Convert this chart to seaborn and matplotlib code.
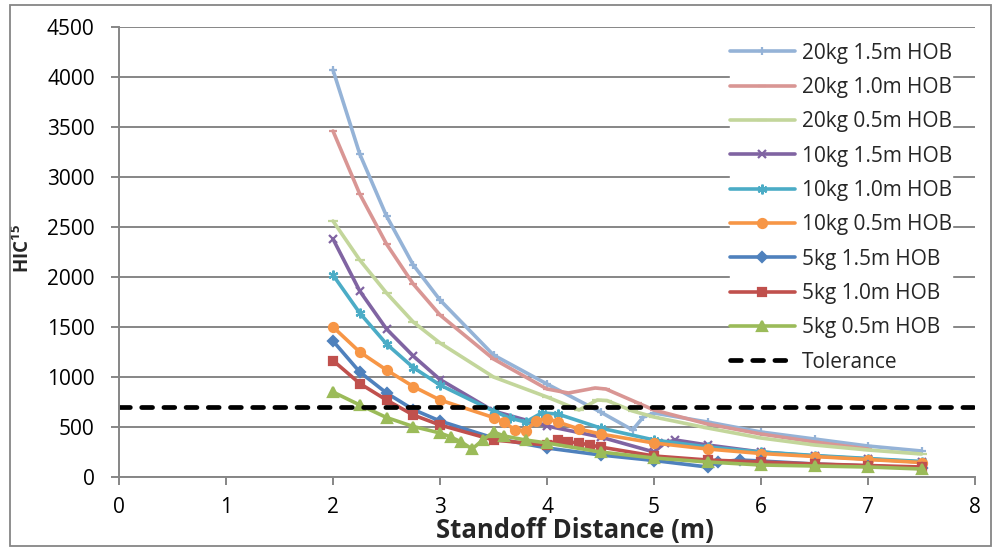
import numpy as np
import pandas as pd
import seaborn as sns
import matplotlib.pyplot as plt
from matplotlib.patches import Rectangle

# series data (standoff distance in m, HIC15)
x_20_15 = [2, 2.25, 2.5, 2.75, 3, 3.5, 4, 4.5, 4.8, 4.9, 5, 5.5, 6, 6.5, 7, 7.5]
y_20_15 = [4070, 3230, 2610, 2120, 1770, 1220, 930, 650, 470, 600, 640, 550, 450, 380, 310, 260]

x_20_10 = [2, 2.25, 2.5, 2.75, 3, 3.5, 4, 4.2, 4.45, 4.55, 4.85, 5, 5.5, 6, 6.5, 7]
y_20_10 = [3460, 2830, 2330, 1930, 1620, 1180, 880, 840, 890, 880, 740, 670, 530, 430, 350, 280]

x_20_05 = [2, 2.25, 2.5, 2.75, 3, 3.5, 4, 4.3, 4.47, 4.56, 4.8, 5, 5.5, 6, 6.5, 7, 7.5]
y_20_05 = [2560, 2170, 1840, 1550, 1340, 1000, 800, 670, 770, 765, 660, 600, 490, 390, 320, 270, 230]

x_10_15 = [2, 2.25, 2.5, 2.75, 3, 3.5, 4, 4.5, 5, 5.1, 5.2, 5.5, 6, 6.5, 7, 7.5]
y_10_15 = [2380, 1860, 1480, 1210, 975, 660, 510, 400, 250, 340, 370, 320, 250, 210, 180, 150]

x_10_10 = [2, 2.25, 2.5, 2.75, 3, 3.5, 3.65, 3.8, 3.95, 4.1, 4.5, 5, 5.5, 6, 6.5, 7, 7.5]
y_10_10 = [2020, 1640, 1330, 1095, 920, 660, 590, 550, 640, 630, 490, 370, 300, 250, 215, 185, 155]

x_10_05 = [2, 2.25, 2.5, 2.75, 3, 3.5, 3.6, 3.7, 3.8, 3.9, 4, 4.1, 4.3, 4.5, 5, 5.5, 6, 6.5, 7, 7.5]
y_10_05 = [1500, 1250, 1070, 905, 770, 595, 550, 470, 465, 560, 585, 550, 480, 430, 340, 280, 235, 205, 175, 145]

x_5_15 = [2, 2.25, 2.5, 2.75, 3, 3.5, 4, 4.5, 5, 5.5, 5.6, 5.8, 6, 6.5, 7, 7.5]
y_5_15 = [1360, 1050, 840, 675, 560, 390, 290, 220, 165, 100, 150, 170, 160, 130, 110, 90]

x_5_10 = [2, 2.25, 2.5, 2.75, 3, 3.5, 4, 4.1, 4.2, 4.3, 4.4, 4.5, 5, 5.5, 6, 6.5, 7, 7.5]
y_5_10 = [1165, 935, 770, 620, 520, 370, 320, 370, 350, 340, 320, 300, 210, 170, 150, 130, 115, 100]

x_5_05 = [2, 2.25, 2.5, 2.75, 3, 3.1, 3.2, 3.3, 3.4, 3.5, 3.6, 3.8, 4, 4.5, 5, 5.5, 6, 6.5, 7, 7.5]
y_5_05 = [850, 720, 595, 505, 440, 400, 350, 280, 370, 450, 410, 370, 340, 250, 190, 150, 120, 110, 100, 80]

tol_x = [0, 8]
tol_y = [700, 700]

labels = ["20kg 1.5m HOB", "20kg 1.0m HOB", "20kg 0.5m HOB",
          "10kg 1.5m HOB", "10kg 1.0m HOB", "10kg 0.5m HOB",
          "5kg 1.5m HOB", "5kg 1.0m HOB", "5kg 0.5m HOB"]
colors = ["#95B3D7", "#D99694", "#C3D69B",
          "#8064A2", "#4BACC6", "#F79646",
          "#4F81BD", "#C0504D", "#9BBB59"]
markers = ["+", "_", "_", "x", (6, 2, 0), "o", "D", "s", "^"]
msizes = [6, 6, 7, 6, 7, 6.5, 5.5, 6, 6.5]
xs = [x_20_15, x_20_10, x_20_05, x_10_15, x_10_10, x_10_05, x_5_15, x_5_10, x_5_05]
ys = [y_20_15, y_20_10, y_20_05, y_10_15, y_10_10, y_10_05, y_5_15, y_5_10, y_5_05]

sns.set_style("white")
plt.rcParams['font.family'] = ['Open Sans', 'DejaVu Sans']
plt.rcParams['mathtext.fontset'] = 'custom'
plt.rcParams['mathtext.rm'] = 'Open Sans'
plt.rcParams['mathtext.bf'] = 'Open Sans:bold'

fig = plt.figure(figsize=(9.97, 5.48), dpi=100)
ax = fig.add_axes([119/997, 1 - 477/548, 856/997, 450/548])

gray = "#868686"
for xv, yv, lab, col, mk, ms in zip(xs, ys, labels, colors, markers, msizes):
    df = pd.DataFrame({"x": xv, "y": yv})
    sns.lineplot(data=df, x="x", y="y", ax=ax, color=col, lw=2.6, marker=mk,
                 markersize=ms, markeredgecolor=col, markerfacecolor=col,
                 markeredgewidth=1.6, estimator=None, sort=False, label=lab)

sns.lineplot(x=tol_x, y=tol_y, ax=ax, color="black", lw=3.4,
             linestyle=(0, (2.3, 2.4)), dash_capstyle="round",
             estimator=None, sort=False, label="Tolerance")

ax.set_xlim(0, 8)
ax.set_ylim(0, 4500)
ax.set_xticks(range(0, 9))
ax.set_yticks(range(0, 4501, 500))
ax.yaxis.grid(True, color=gray, lw=1.4)
ax.set_axisbelow(True)
for s in ["top", "right"]:
    ax.spines[s].set_visible(False)
for s in ["left", "bottom"]:
    ax.spines[s].set_color(gray)
    ax.spines[s].set_linewidth(1.4)
ax.tick_params(axis="both", direction="out", length=5.5, width=1.4, color=gray,
               labelsize=15, labelcolor="black")
ax.tick_params(axis="y", pad=12, left=True)
ax.tick_params(axis="x", pad=9, bottom=True)

ax.set_xlabel("Standoff Distance (m)", fontsize=18.5, fontweight="bold")
ax.set_ylabel(r"HIC$^{\mathbf{15}}$", fontsize=13.5, fontweight="bold")
ax.xaxis.set_label_coords(0.533, -0.088)
ax.yaxis.set_label_coords(-0.099, 0.507)

leg = ax.legend(loc="upper left", bbox_to_anchor=(0.714, 0.965), frameon=True,
                fontsize=15, handlelength=3.1, handletextpad=0.35,
                labelspacing=0.64, borderpad=0, borderaxespad=0, numpoints=1)
leg.get_frame().set_facecolor("white")
leg.get_frame().set_edgecolor("white")
leg.get_frame().set_alpha(1)

fig.patches.append(Rectangle((10/997, 2/548), 981/997, 541/548, transform=fig.transFigure,
                             fill=False, edgecolor=gray, lw=1.3))

fig.savefig("out.png", dpi=100)
